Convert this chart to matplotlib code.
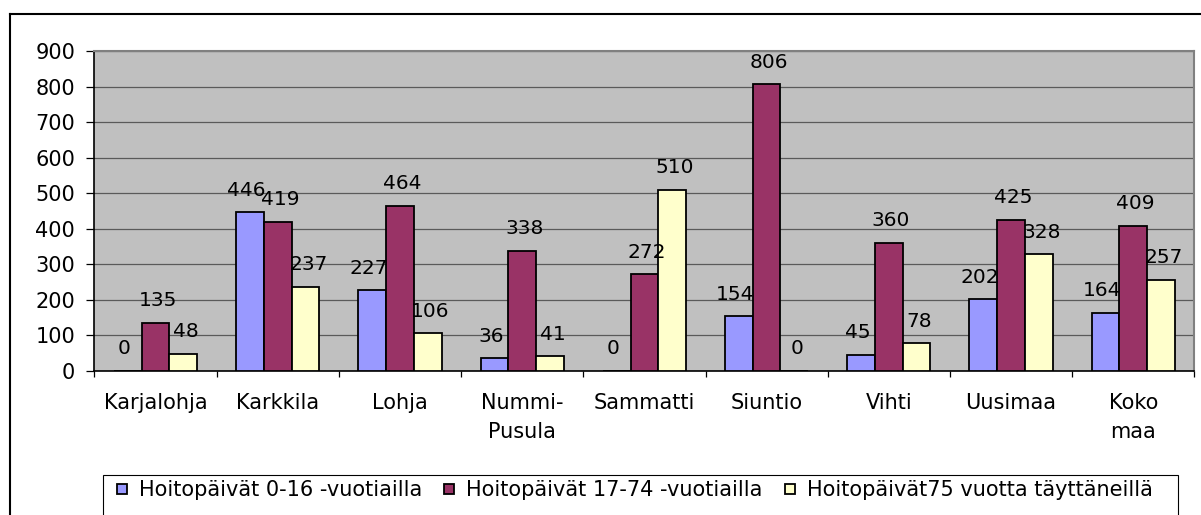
import matplotlib
matplotlib.use("Agg")
import matplotlib.pyplot as plt
import numpy as np
from matplotlib.patches import Rectangle
from matplotlib.lines import Line2D

# data
kunnat = ['Karjalohja', 'Karkkila', 'Lohja', 'Nummi-\nPusula', 'Sammatti',
          'Siuntio', 'Vihti', 'Uusimaa', 'Koko\nmaa']
ika_0_16 = [0, 446, 227, 36, 0, 154, 45, 202, 164]
ika_17_74 = [135, 419, 464, 338, 272, 806, 360, 425, 409]
ika_75 = [48, 237, 106, 41, 510, 0, 78, 328, 257]
sarjat = ['Hoitopäivät 0-16 -vuotiailla', 'Hoitopäivät 17-74 -vuotiailla',
          'Hoitopäivät75 vuotta täyttäneillä']
varit = ['#9999FF', '#993366', '#FFFFCC']

W, H = 1201, 515
fig = plt.figure(figsize=(W / 100, H / 100), dpi=100)
plt.rcParams['font.family'] = 'DejaVu Sans'
fs = 15

# chart outer border (cut off at right and bottom)
fig.add_artist(Line2D([10 / W, 1.0], [1 - 14 / H, 1 - 14 / H], color='black', lw=1.5,
                      transform=fig.transFigure))
fig.add_artist(Line2D([10 / W, 10 / W], [1 - 14 / H, 0.0], color='black', lw=1.5,
                      transform=fig.transFigure))

ax = fig.add_axes([94.5 / W, (H - 371) / H, 1099.8 / W, 320 / H])
ax.set_facecolor('#C0C0C0')

x = np.arange(len(kunnat))
w = 0.227
nudge = [-2.5, 1.5, 2]  # small sideways shift of value labels (points)
bars = []
for j, (vals, col) in enumerate(zip([ika_0_16, ika_17_74, ika_75], varit)):
    b = ax.bar(x + (j - 1) * w, vals, w, color=col, edgecolor='black', linewidth=1.3,
               label=sarjat[j], zorder=3)
    bars.append(b)
    for xi, v in zip(x + (j - 1) * w, vals):
        ax.annotate(str(v), (xi, v), xytext=(nudge[j], 12), textcoords='offset points',
                    ha='center', va='baseline', fontsize=14.5, zorder=4)

ax.set_xlim(-0.5, len(kunnat) - 0.5)
ax.set_ylim(0, 900)
ax.set_yticks(np.arange(0, 901, 100))
ax.yaxis.grid(True, color='#5a5a5a', lw=0.9, zorder=0)
ax.set_axisbelow(True)

ax.set_xticks(x)
ax.set_xticklabels(kunnat, fontsize=fs, linespacing=1.55)
ax.set_xticks(np.arange(-0.5, len(kunnat)), minor=True)
ax.tick_params(axis='x', which='major', length=0, pad=16)
ax.tick_params(axis='x', which='minor', length=4, width=0.9, color='black')
ax.tick_params(axis='y', length=6, width=0.9, color='black', pad=8, labelsize=fs)

for s in ['left', 'bottom']:
    ax.spines[s].set_color('black')
    ax.spines[s].set_linewidth(1.2)
for s in ['top', 'right']:
    ax.spines[s].set_color('#808080')
    ax.spines[s].set_linewidth(1.5)

# legend box (bottom edge falls outside the picture)
fig.add_artist(Rectangle((103 / W, -0.1), (1178 - 103) / W, 1 - 475 / H + 0.1,
                         transform=fig.transFigure, facecolor='white',
                         edgecolor='black', lw=0.8))
leg = fig.legend(handles=bars, labels=sarjat, ncol=3, loc='upper left',
                 bbox_to_anchor=(113 / W, 1 - 476 / H), frameon=False, fontsize=fs,
                 handlelength=0.48, handleheight=0.36, handletextpad=0.58,
                 columnspacing=1.05, borderpad=0.2, borderaxespad=0)

fig.savefig('out.png', dpi=100)
